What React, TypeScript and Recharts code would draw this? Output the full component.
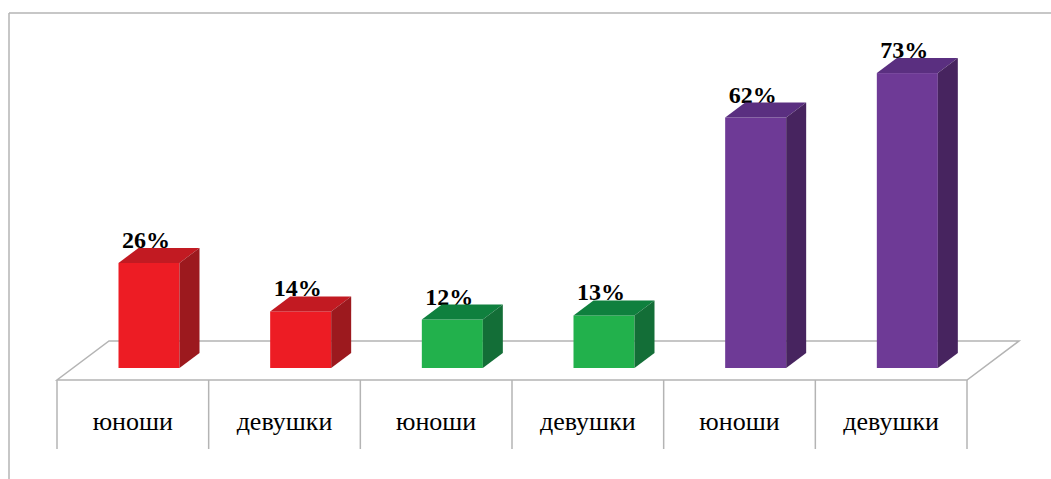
import React from 'react';
import { BarChart, Bar, XAxis, YAxis, Customized } from 'recharts';

// ---- data ----
const categories = ['юноши', 'девушки', 'юноши', 'девушки', 'юноши', 'девушки'];
const values = [26, 14, 12, 13, 62, 73];
const frontColors = ['#ED1C24', '#ED1C24', '#22B14C', '#22B14C', '#6E3A96', '#6E3A96'];
const topColors = ['#C21A22', '#C21A22', '#0F803E', '#0F803E', '#5A2F80', '#5A2F80'];
const sideColors = ['#9C191E', '#9C191E', '#136E37', '#136E37', '#47245F', '#47245F'];

const data = categories.map((c, i) => ({ id: i, name: c, value: values[i] }));

// ---- layout ----
const W = 1051;
const H = 479;
const LEFT = 57;
const RIGHT = 967;
const FLOOR_Y = 380;
const FLOOR_DX = 52;
const FLOOR_DY = 39;
const BAR_DX = 20;
const BAR_DY = 15;
const SHIFT_X = 16;
const SHIFT_Y = 12;
const TABLE_BOTTOM = 449;
const BAND = (RIGHT - LEFT) / categories.length;
const GRID = '#B4B4B4';
const SERIF = "'Liberation Serif', 'Times New Roman', 'DejaVu Serif', serif";

const Bar3D = (props: any) => {
  const { x, y, width, height, payload } = props;
  const i = payload.id;
  const fx = x + SHIFT_X;
  const fy = y - SHIFT_Y;
  const w = width;
  const h = height;
  return (
    <g>
      <text
        x={fx + w / 2 - 3}
        y={fy - BAR_DY}
        textAnchor="middle"
        style={{ fontFamily: SERIF, fontWeight: 700, fontSize: 24 }}
        fill="#000"
      >
        {`${values[i]}%`}
      </text>
      <rect x={fx} y={fy} width={w} height={h} fill={frontColors[i]} />
      <polygon
        points={`${fx},${fy} ${fx + w},${fy} ${fx + w + BAR_DX},${fy - BAR_DY} ${fx + BAR_DX},${fy - BAR_DY}`}
        fill={topColors[i]}
      />
      <polygon
        points={`${fx + w},${fy} ${fx + w + BAR_DX},${fy - BAR_DY} ${fx + w + BAR_DX},${fy + h - BAR_DY} ${fx + w},${fy + h}`}
        fill={sideColors[i]}
      />
    </g>
  );
};

const Floor = () => (
  <g>
    <line x1={9} y1={13} x2={W} y2={13} stroke={GRID} strokeWidth={1.5} />
    <line x1={9} y1={13} x2={9} y2={H} stroke={GRID} strokeWidth={1.5} />
    <polygon
      points={`${LEFT},${FLOOR_Y} ${RIGHT},${FLOOR_Y} ${RIGHT + FLOOR_DX},${FLOOR_Y - FLOOR_DY} ${LEFT + FLOOR_DX},${FLOOR_Y - FLOOR_DY}`}
      fill="#FFFFFF"
      stroke={GRID}
      strokeWidth={1.5}
    />
  </g>
);

const CategoryTick = (props: any) => {
  const { x, y, payload, index } = props;
  const i = payload.value;
  const left = x - BAND / 2;
  const right = x + BAND / 2;
  return (
    <g>
      <line x1={left} y1={y} x2={left} y2={TABLE_BOTTOM} stroke={GRID} strokeWidth={1.5} />
      {index === categories.length - 1 && (
        <line x1={right} y1={y} x2={right} y2={TABLE_BOTTOM} stroke={GRID} strokeWidth={1.5} />
      )}
      <text
        x={x}
        y={y + 50}
        textAnchor="middle"
        style={{ fontFamily: SERIF, fontSize: 26 }}
        fill="#000"
      >
        {categories[i]}
      </text>
    </g>
  );
};

export default function App() {
  return (
    <div style={{ position: 'absolute', left: 0, top: 0, width: W, height: H, background: '#fff' }}>
      <BarChart
        width={W}
        height={H}
        data={data}
        margin={{ top: 77, right: W - RIGHT, bottom: 30, left: LEFT }}
        barCategoryGap="30%"
      >
        <Customized component={Floor} />
        <XAxis
          dataKey="id"
          type="category"
          height={69}
          axisLine={false}
          tickLine={false}
          tickSize={0}
          tickMargin={0}
          interval={0}
          tick={<CategoryTick />}
        />
        <YAxis hide domain={[0, 75]} width={0} />
        <Bar dataKey="value" isAnimationActive={false} shape={<Bar3D />} />
      </BarChart>
    </div>
  );
}
